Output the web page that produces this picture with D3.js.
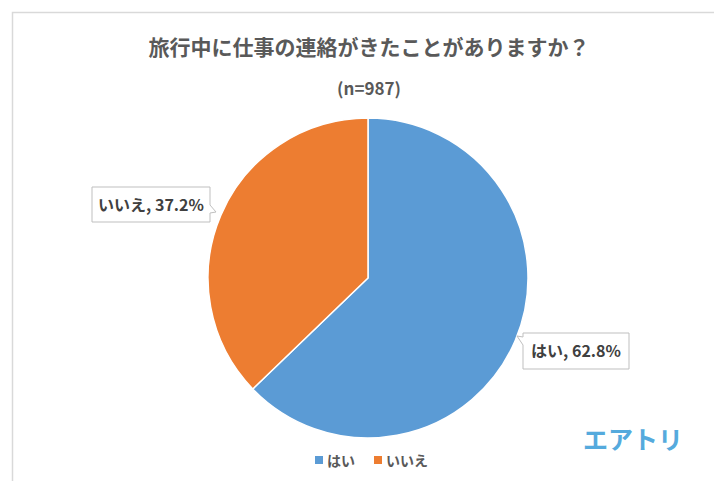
<!DOCTYPE html>
<html>
<head>
<meta charset="utf-8">
<script src="https://cdn.jsdelivr.net/npm/d3@7"></script>
<style>
  body { margin: 0; background: #fff; }
  text { font-family: "Noto Sans CJK JP", "Noto Sans", sans-serif; }
</style>
</head>
<body>
<svg id="pie" width="714" height="481"></svg>
<script>
const svg = d3.select("#pie");
const width = +svg.attr("width");
const height = +svg.attr("height");

// Data
const categories = ["はい", "いいえ"];
const values = [62.8, 37.2];
const colors = ["#5B9BD5", "#ED7D31"];
const title = "旅行中に仕事の連絡がきたことがありますか？";
const subtitle = "(n=987)";

const data = categories.map((c, i) => ({ name: c, value: values[i] }));

// frame
svg.append("rect")
  .attr("x", 12.5).attr("y", 12.5)
  .attr("width", width).attr("height", height)
  .attr("fill", "none").attr("stroke", "#d9d9d9").attr("stroke-width", 1.5);

// titles
svg.append("text")
  .attr("x", 369).attr("y", 55)
  .attr("text-anchor", "middle")
  .attr("font-size", 21).attr("font-weight", "bold")
  .attr("fill", "#595959")
  .text(title);
svg.append("text")
  .attr("x", 369).attr("y", 95)
  .attr("text-anchor", "middle")
  .attr("font-size", 17).attr("font-weight", "bold")
  .attr("fill", "#595959")
  .text(subtitle);

// Pie
const cx = 368, cy = 278, radius = 160;
const pie = d3.pie().sort(null).value((d) => d.value);
const arc = d3.arc().innerRadius(0).outerRadius(radius);
const arcs = pie(data);

const g = svg.append("g").attr("transform", `translate(${cx},${cy})`);
g.selectAll("path")
  .data(arcs)
  .enter()
  .append("path")
  .attr("d", arc)
  .attr("fill", (d, i) => colors[i])
  .attr("stroke", "#fff")
  .attr("stroke-width", 1.5);

// Callout labels
const labelBoxes = [
  { x: 523, y: 333, w: 106, h: 36, tip: [517, 336], side: "left" },
  { x: 92, y: 187, w: 118, h: 35, tip: [216, 212], side: "right" }
];
arcs.forEach((d, i) => {
  const b = labelBoxes[i];
  let p;
  if (b.side === "left") {
    p = [[b.x, b.y], [b.x + b.w, b.y], [b.x + b.w, b.y + b.h], [b.x, b.y + b.h],
         [b.x, b.y + 12], b.tip, [b.x, b.y + 4]];
  } else {
    p = [[b.x, b.y], [b.x + b.w, b.y], [b.x + b.w, b.y + 18], b.tip,
         [b.x + b.w, b.y + 26], [b.x + b.w, b.y + b.h], [b.x, b.y + b.h]];
  }
  svg.append("path")
    .attr("d", d3.line()(p) + "Z")
    .attr("fill", "#fff")
    .attr("stroke", "#bfbfbf")
    .attr("stroke-width", 1);
  svg.append("text")
    .attr("x", b.x + b.w / 2).attr("y", b.y + b.h / 2 + 6)
    .attr("text-anchor", "middle")
    .attr("font-size", 16).attr("font-weight", "bold")
    .attr("fill", "#404040")
    .text(`${d.data.name}, ${d.data.value.toFixed(1)}%`);
});

// Legend
const legendX = [315, 374];
const legend = svg.append("g");
categories.forEach((c, i) => {
  legend.append("rect")
    .attr("x", legendX[i]).attr("y", 456)
    .attr("width", 8).attr("height", 8)
    .attr("fill", colors[i]);
  legend.append("text")
    .attr("x", legendX[i] + 12).attr("y", 466)
    .attr("font-size", 14).attr("font-weight", "bold")
    .attr("fill", "#595959")
    .text(c);
});

// logo
svg.append("text")
  .attr("x", 633).attr("y", 449)
  .attr("text-anchor", "middle")
  .attr("font-size", 25).attr("font-weight", "bold")
  .attr("fill", "#55AADD")
  .text("エアトリ");
</script>
</body>
</html>
